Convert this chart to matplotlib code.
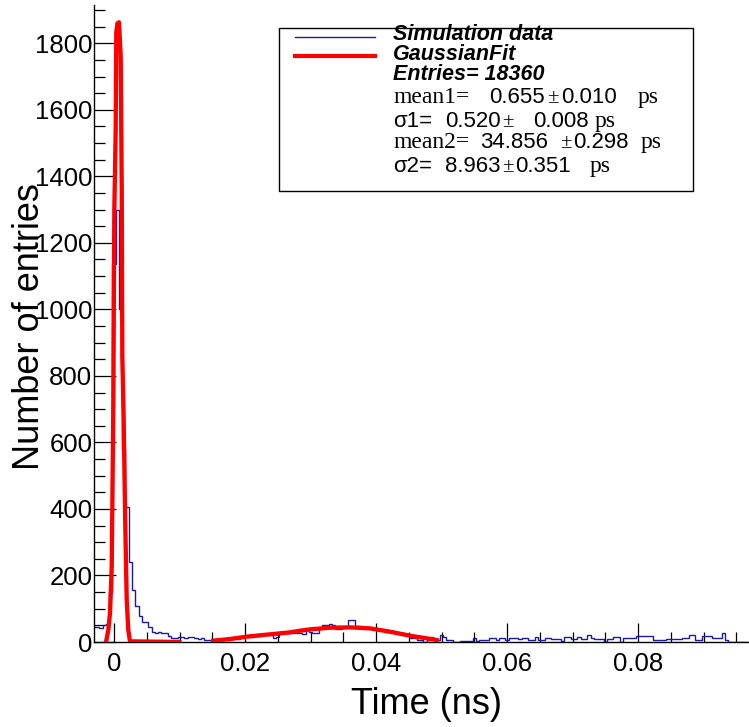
import numpy as np
import matplotlib
matplotlib.use("Agg")
import matplotlib.pyplot as plt
from matplotlib.patches import Rectangle
from matplotlib.lines import Line2D

plt.rcParams["font.family"] = ["Liberation Sans", "DejaVu Sans"]

# ── data ─────────────────────────────────────────────────────────────────────
hist_range = (-0.00325, 0.09675)   # ns, 200 bins of 0.5 ps
counts = [
    45, 45, 42, 50, 53, 151, 1137, 1300, 1000, 581,
    406, 242, 156, 108, 78, 61, 61, 45, 31, 28,
    31, 26, 26, 18, 12, 12, 16, 16, 12, 16,
    16, 13, 8, 13, 6, 6, 4, 4, 3, 5,
    9, 6, 9, 12, 10, 16, 14, 18, 16, 21,
    19, 22, 20, 24, 22, 12, 16, 26, 26, 28,
    28, 28, 26, 26, 24, 35, 30, 28, 28, 40,
    50, 52, 54, 50, 38, 40, 44, 44, 66, 66,
    48, 48, 44, 43, 42, 40, 40, 38, 40, 31,
    31, 31, 26, 26, 26, 21, 21, 11, 11, 6,
    6, 1, 6, 16, 6, 6, 21, 16, 6, 6,
    1, 1, 3, 3, 3, 3, 11, 3, 6, 6,
    6, 11, 11, 6, 11, 11, 6, 13, 13, 13,
    8, 13, 13, 6, 6, 16, 6, 6, 13, 13,
    8, 8, 8, 3, 16, 16, 8, 8, 16, 8,
    8, 21, 13, 8, 8, 8, 1, 8, 8, 16,
    16, 1, 11, 11, 11, 11, 18, 18, 18, 18,
    18, 6, 6, 6, 6, 8, 8, 8, 8, 8,
    11, 11, 21, 21, 6, 6, 18, 18, 18, 13,
    13, 13, 26, 6, 1, 1, 0, 0, 0, 0,
]

# fitted curve, first peak
fit1_t = [-0.00122, -0.00087, -0.00061, -0.00035, -0.00026, -0.0001, -0.00003,
          0.00005, 0.00026, 0.00035, 0.00053, 0.00076, 0.00102, 0.00118,
          0.00127, 0.00148, 0.00168, 0.00194, 0.00218, 0.00244, 0.0100]
fit1_n = [0, 36, 87, 226, 397, 728, 1000,
          1300, 1541, 1833, 1860, 1863, 1762, 1367,
          858, 668, 397, 126, 36, 2, 0]

# fitted curve, second bump
fit2_t = [0.01516, 0.01771, 0.02026, 0.02275, 0.02534, 0.02687, 0.0284, 0.02992,
          0.03298, 0.03603, 0.03908, 0.04214, 0.04519, 0.04774, 0.04927]
fit2_n = [4, 9, 16, 21, 26, 29, 34, 38, 43, 44, 41, 31, 19, 11, 6]

legend_rows = [
    # (label, value, error)
    ("mean1=", "0.655", "0.010"),
    ("σ1=", "0.520", "0.008"),
    ("mean2=", "34.856", "0.298"),
    ("σ2=", "8.963", "0.351"),
]

# ── figure ───────────────────────────────────────────────────────────────────
W, H = 749, 727
fig = plt.figure(figsize=(W / 100, H / 100), dpi=100)
ax = fig.add_axes([94.35 / W, 1 - 642 / H, 655 / W, 637 / H])

edges = np.linspace(hist_range[0], hist_range[1], len(counts) + 1)
ax.stairs(counts, edges, baseline=None, color="#1c1ca0", linewidth=1.0, zorder=2)
ax.plot(fit1_t, fit1_n, color="red", linewidth=3.1, zorder=3)
ax.plot(fit2_t, fit2_n, color="red", linewidth=3.1, zorder=3)

ax.set_xlim(-0.003, 0.097)
ax.set_ylim(0, 1915)

ax.spines["top"].set_visible(False)
ax.spines["right"].set_visible(False)
for s in ("left", "bottom"):
    ax.spines[s].set_linewidth(1.0)

ax.set_xticks([0, 0.02, 0.04, 0.06, 0.08])
ax.set_xticklabels(["0", "0.02", "0.04", "0.06", "0.08"])
ax.set_xticks(np.arange(0.0, 0.0951, 0.005), minor=True)
ax.set_yticks(np.arange(0, 1801, 200))
ax.set_yticks(np.arange(0, 1901, 50), minor=True)

ax.tick_params(axis="both", which="both", direction="in", labelsize=18.5, width=0.9)
ax.tick_params(axis="x", which="major", length=14, pad=7)
ax.tick_params(axis="x", which="minor", length=7)
ax.tick_params(axis="y", which="major", length=15.5, pad=1.5)
ax.tick_params(axis="y", which="minor", length=8)

fig.text(427 / W, 1 - 704 / H, "Time (ns)", fontsize=26, ha="center", va="center")
# y title overlaps the tick labels in the original too
fig.text(30 / W, 1 - 327 / H, "Number of entries", fontsize=26,
         rotation=90, ha="center", va="center")

# ── legend box ───────────────────────────────────────────────────────────────
def fx(px):
    return px / W

def fy(py):
    return 1 - py / H

fig.add_artist(Rectangle((fx(279), fy(191)), fx(693) - fx(279), fy(27.7) - fy(191),
                         transform=fig.transFigure, facecolor="white",
                         edgecolor="black", linewidth=1.0, zorder=5))
fig.add_artist(Line2D([fx(295), fx(375)], [fy(36.7), fy(36.7)],
                      transform=fig.transFigure, color="#1c1ca0", linewidth=1.0, zorder=6))
fig.add_artist(Line2D([fx(295), fx(375)], [fy(56), fy(56)],
                      transform=fig.transFigure, color="red", linewidth=3.0, zorder=6))

for txt, base in [("Simulation data", 40), ("GaussianFit", 60), ("Entries= 18360", 80)]:
    fig.text(fx(393), fy(base), txt, fontsize=15.5, fontweight="bold", fontstyle="italic",
             va="baseline", zorder=6)

serif = ["Liberation Serif", "DejaVu Serif"]
sans = ["Liberation Sans", "DejaVu Sans"]
# x positions of the pieces on each row: label, value, ±, error, unit
piece_x = [
    (393, 489, 547, 561, 638),
    (393, 445, 502, 533, 595),
    (393, 480, 560, 573, 641),
    (393, 445, 502, 515, 590),
]
row_base = [103, 127, 148, 172]
for (lab, val, err), xs, base in zip(legend_rows, piece_x, row_base):
    y = fy(base)
    if lab.startswith("mean"):
        fig.text(fx(xs[0]), y, lab, family=serif, fontsize=17, va="baseline", zorder=6)
    else:
        fig.text(fx(xs[0]), y, lab, family=sans, fontsize=16, va="baseline", zorder=6)
    fig.text(fx(xs[1]), y, val, family=sans, fontsize=16, va="baseline", zorder=6)
    fig.text(fx(xs[2]), y, "±", family=serif, fontsize=15, va="baseline", zorder=6)
    fig.text(fx(xs[3]), y, err, family=sans, fontsize=16, va="baseline", zorder=6)
    fig.text(fx(xs[4]), y, "ps", family=serif, fontsize=17, va="baseline", zorder=6)

fig.savefig("out.png", dpi=100)
